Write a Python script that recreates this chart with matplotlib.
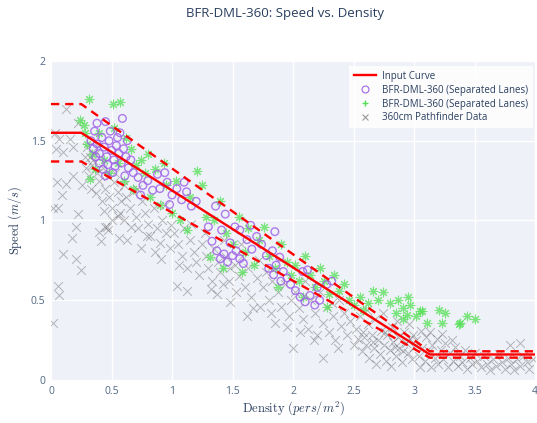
import matplotlib.pyplot as plt
from matplotlib.lines import Line2D

plt.rcParams['font.family'] = ['Open Sans', 'DejaVu Sans']
plt.rcParams['mathtext.fontset'] = 'cm'

# input curve and its +/- band (vertices)
curve_x = [0, 0.25, 3.13, 4]
curve_y = [1.55, 1.55, 0.16, 0.16]
upper_y = [1.73, 1.73, 0.18, 0.18]
lower_y = [1.37, 1.37, 0.14, 0.14]

# 360cm Pathfinder data (gray x)
pf = [(0.02, 0.36), (0.06, 0.59), (0.07, 0.53), (0.10, 0.79), (0.21, 0.76), (0.25, 0.69), (0.17, 0.89),
      (0.21, 0.96), (0.22, 1.04), (0.06, 1.08), (0.02, 1.08), (0.05, 1.24), (0.12, 1.23), (0.26, 1.22),
      (0.12, 1.70), (0.03, 1.55), (0.07, 1.51), (0.16, 1.51), (0.22, 1.61), (0.04, 1.45), (0.10, 1.43),
      (0.28, 1.40), (0.18, 1.28), (0.09, 1.16), (0.18, 1.46),
      (0.30, 1.46), (0.32, 1.40), (0.34, 1.35), (0.36, 1.42), (0.38, 1.30), (0.40, 1.25), (0.31, 1.28),
      (0.33, 1.20), (0.37, 1.17), (0.42, 1.12), (0.45, 1.20), (0.48, 1.15), (0.50, 1.08), (0.44, 1.06),
      (0.45, 0.96), (0.47, 0.94), (0.41, 0.87), (0.56, 0.89), (0.55, 1.03), (0.40, 0.93), (0.46, 0.96),
      (0.52, 1.24), (0.55, 1.18), (0.58, 1.12), (0.35, 1.38), (0.39, 1.47), (0.29, 1.33), (0.43, 1.33),
      (0.47, 1.28), (0.53, 1.30), (0.60, 1.22), (0.57, 1.05), (0.50, 1.00),
      (0.62, 1.15), (0.65, 1.08), (0.68, 1.18), (0.70, 1.02), (0.72, 0.95), (0.75, 1.12), (0.78, 1.05),
      (0.80, 0.98), (0.82, 0.90), (0.85, 1.08), (0.88, 0.95), (0.90, 0.86), (0.92, 1.00), (0.95, 0.92),
      (0.98, 0.83), (0.74, 0.83), (0.66, 0.96), (0.63, 0.88), (0.86, 0.80), (0.94, 1.10), (0.71, 1.20),
      (0.79, 0.90), (0.99, 0.97), (0.60, 1.00), (0.91, 0.76),
      (1.02, 0.92), (1.05, 0.85), (1.08, 0.78), (1.10, 0.95), (1.12, 0.70), (1.15, 0.88), (1.18, 0.80),
      (1.20, 0.74), (1.22, 0.66), (1.25, 0.85), (1.28, 0.78), (1.30, 0.70), (1.33, 0.62), (1.35, 0.82),
      (1.38, 0.74), (1.40, 0.68), (1.42, 0.60), (1.45, 0.77), (1.48, 0.70), (1.04, 0.59), (1.12, 0.56),
      (1.37, 0.54), (1.48, 0.49), (1.16, 0.98), (1.27, 0.92), (1.43, 0.88), (1.06, 0.72), (1.32, 0.57),
      (1.47, 0.62),
      (1.52, 0.72), (1.55, 0.65), (1.58, 0.78), (1.60, 0.58), (1.63, 0.70), (1.65, 0.52), (1.67, 0.45),
      (1.70, 0.64), (1.73, 0.46), (1.75, 0.58), (1.78, 0.68), (1.80, 0.50), (1.83, 0.62), (1.85, 0.36),
      (1.88, 0.55), (1.90, 0.46), (1.93, 0.60), (1.95, 0.33), (1.98, 0.50), (1.57, 0.85), (1.62, 0.40),
      (1.72, 0.75), (1.82, 0.42), (1.97, 0.40), (1.53, 0.55),
      (2.00, 0.20), (2.02, 0.55), (2.05, 0.45), (2.08, 0.38), (2.10, 0.62), (2.12, 0.32), (2.15, 0.50),
      (2.18, 0.42), (2.20, 0.28), (2.22, 0.55), (2.25, 0.14), (2.25, 0.36), (2.28, 0.46), (2.30, 0.30),
      (2.33, 0.40), (2.35, 0.25), (2.37, 0.20), (2.38, 0.50), (2.40, 0.34), (2.42, 0.42), (2.45, 0.28),
      (2.47, 0.37), (2.50, 0.22), (2.06, 0.30), (2.17, 0.25), (2.32, 0.48),
      (2.52, 0.32), (2.54, 0.26), (2.55, 0.40), (2.57, 0.18), (2.58, 0.30), (2.60, 0.22), (2.62, 0.35),
      (2.63, 0.14), (2.65, 0.28), (2.67, 0.20), (2.68, 0.38), (2.70, 0.25), (2.72, 0.16), (2.73, 0.31),
      (2.75, 0.22), (2.77, 0.12), (2.78, 0.28), (2.80, 0.19), (2.82, 0.33), (2.83, 0.24), (2.85, 0.15),
      (2.87, 0.27), (2.88, 0.20), (2.90, 0.11), (2.92, 0.30), (2.93, 0.23), (2.95, 0.17), (2.97, 0.26),
      (2.98, 0.13), (3.00, 0.21), (2.61, 0.44), (2.74, 0.42), (2.86, 0.37), (2.96, 0.35), (2.69, 0.10),
      (2.81, 0.09), (2.59, 0.27), (2.66, 0.24), (2.76, 0.30), (2.84, 0.21), (2.91, 0.18), (2.99, 0.28),
      (3.02, 0.25), (3.04, 0.15), (3.06, 0.31), (3.07, 0.20), (3.09, 0.12), (3.10, 0.27), (3.12, 0.18),
      (3.14, 0.08), (3.15, 0.22), (3.17, 0.14), (3.19, 0.26), (3.20, 0.10), (3.22, 0.19), (3.24, 0.13),
      (3.26, 0.23), (3.28, 0.08), (3.30, 0.17), (3.32, 0.12), (3.34, 0.21), (3.36, 0.09), (3.38, 0.15),
      (3.40, 0.11), (3.42, 0.19), (3.44, 0.07), (3.46, 0.14), (3.48, 0.10), (3.50, 0.17), (3.05, 0.08),
      (3.13, 0.30), (3.23, 0.29), (3.31, 0.25),
      (3.52, 0.12), (3.55, 0.08), (3.58, 0.15), (3.60, 0.10), (3.63, 0.06), (3.65, 0.13), (3.68, 0.09),
      (3.70, 0.16), (3.73, 0.11), (3.75, 0.07), (3.78, 0.14), (3.79, 0.22), (3.80, 0.10), (3.83, 0.06),
      (3.85, 0.13), (3.88, 0.23), (3.88, 0.09), (3.90, 0.15), (3.93, 0.11), (3.95, 0.07), (3.98, 0.13)]
pf_x = [p[0] for p in pf]
pf_y = [p[1] for p in pf]

# BFR-DML-360 (purple circles)
purple = [(0.36, 1.56), (0.38, 1.61), (0.45, 1.62), (0.59, 1.64), (0.33, 1.50), (0.35, 1.45), (0.38, 1.48),
          (0.40, 1.42), (0.42, 1.52), (0.44, 1.46), (0.46, 1.40), (0.48, 1.50), (0.50, 1.44), (0.52, 1.38),
          (0.54, 1.47), (0.56, 1.42), (0.58, 1.36), (0.60, 1.45), (0.62, 1.40), (0.64, 1.33), (0.40, 1.36),
          (0.43, 1.32), (0.47, 1.35), (0.51, 1.30), (0.55, 1.52), (0.37, 1.40), (0.49, 1.56), (0.57, 1.55),
          (0.63, 1.50), (0.66, 1.38), (0.68, 1.30), (0.53, 1.34), (0.45, 1.28), (0.61, 1.28),
          (0.72, 1.27), (0.76, 1.22), (0.80, 1.25), (0.84, 1.19), (0.88, 1.29), (0.94, 1.30), (0.90, 1.20),
          (0.96, 1.24), (1.00, 1.16), (1.04, 1.20), (1.08, 1.13), (1.12, 1.18), (1.16, 1.09), (0.98, 1.10),
          (0.74, 1.16), (1.20, 1.12), (1.10, 1.24),
          (1.36, 1.09), (1.44, 1.04), (1.41, 0.94), (1.56, 0.94), (1.85, 0.93), (1.37, 0.81), (1.40, 0.76),
          (1.43, 0.79), (1.46, 0.74), (1.50, 0.78), (1.53, 0.81), (1.56, 0.76), (1.59, 0.73), (1.48, 0.86),
          (1.62, 0.88), (1.66, 0.82), (1.70, 0.90), (1.74, 0.85), (1.30, 0.96), (1.33, 0.87), (1.52, 0.96),
          (1.65, 0.97),
          (1.78, 0.78), (1.83, 0.81), (1.86, 0.72), (1.89, 0.77), (1.92, 0.68), (1.95, 0.64), (1.98, 0.60),
          (1.90, 0.62), (1.84, 0.66), (2.08, 0.68), (2.12, 0.69), (2.06, 0.52), (2.10, 0.49), (2.14, 0.53),
          (2.18, 0.47), (2.22, 0.50), (2.28, 0.60), (2.32, 0.62), (2.20, 0.58), (1.80, 0.70), (2.02, 0.56)]
purple_x = [p[0] for p in purple]
purple_y = [p[1] for p in purple]

# BFR-DML-360 (green asterisks)
green = [(0.31, 1.76), (0.51, 1.73), (0.57, 1.74), (0.24, 1.63),
         (0.28, 1.55), (0.30, 1.48), (0.34, 1.42), (0.40, 1.55), (0.44, 1.38), (0.48, 1.30), (0.52, 1.58),
         (0.55, 1.36), (0.60, 1.25), (0.62, 1.52), (0.66, 1.45), (0.68, 1.20), (0.27, 1.60), (0.36, 1.32),
         (0.70, 1.35), (0.32, 1.26),
         (0.74, 1.38), (0.78, 1.30), (0.82, 1.15), (0.86, 1.32), (0.90, 1.10), (0.95, 1.22), (1.00, 1.05),
         (1.03, 1.25), (1.07, 1.00), (1.12, 0.94), (1.15, 1.15), (1.21, 1.31), (1.25, 1.22), (1.28, 1.02),
         (0.80, 1.42), (0.93, 1.36),
         (1.31, 0.77), (1.35, 1.00), (1.40, 1.12), (1.45, 0.92), (1.50, 0.85), (1.55, 1.02), (1.60, 0.80),
         (1.63, 0.95), (1.68, 0.72), (1.72, 0.88), (1.76, 0.96), (1.80, 0.78), (1.85, 0.70), (1.90, 0.85),
         (1.95, 0.74), (1.98, 0.66), (1.42, 0.70), (1.58, 0.68), (1.88, 0.58),
         (2.02, 0.72), (2.05, 0.62), (2.10, 0.78), (2.14, 0.66), (2.18, 0.58), (2.22, 0.70), (2.26, 0.62),
         (2.30, 0.54), (2.34, 0.66), (2.38, 0.56), (2.42, 0.60), (2.46, 0.50), (2.50, 0.47), (2.55, 0.52),
         (2.58, 0.44), (2.62, 0.48), (2.66, 0.56), (2.70, 0.50), (2.08, 0.52), (2.28, 0.46),
         (2.74, 0.55), (2.80, 0.48), (2.85, 0.42), (2.91, 0.45), (2.97, 0.47), (2.91, 0.38), (3.07, 0.43),
         (3.02, 0.40), (3.11, 0.36), (3.21, 0.44), (3.23, 0.36), (3.26, 0.42), (3.37, 0.35), (3.38, 0.36),
         (3.44, 0.40), (3.50, 0.38), (2.95, 0.52), (2.87, 0.50), (2.94, 0.41), (3.05, 0.43)]
green_x = [p[0] for p in green]
green_y = [p[1] for p in green]

xticks = [0, 0.5, 1, 1.5, 2, 2.5, 3, 3.5, 4]
xticklabels = ['0', '0.5', '1', '1.5', '2', '2.5', '3', '3.5', '4']
yticks = [0, 0.5, 1, 1.5, 2]
yticklabels = ['0', '0.5', '1', '1.5', '2']

fig = plt.figure(figsize=(5.37, 4.23), dpi=100)
ax = fig.add_axes([51 / 537, 1 - 380 / 423, 484 / 537, 319 / 423])
ax.set_facecolor('#EEF1F8')

ax.scatter(pf_x, pf_y, marker='x', s=40, color='#555555', alpha=0.4, linewidths=0.7, zorder=2)
ax.scatter(green_x, green_y, marker=(8, 2, 0), s=40, color='#55e055', alpha=0.75, linewidths=0.8, zorder=3)
ax.scatter(purple_x, purple_y, marker='o', s=30, facecolors='none', edgecolors='#a066e6',
           linewidths=1.0, alpha=0.85, zorder=4)

ax.plot(curve_x, curve_y, color='red', linewidth=1.7, zorder=5)
ax.plot(curve_x, upper_y, color='red', linewidth=1.7, linestyle=(0, (3.5, 2.5)), zorder=5)
ax.plot(curve_x, lower_y, color='red', linewidth=1.7, linestyle=(0, (3.5, 2.5)), zorder=5)

ax.set_xlim(0, 4)
ax.set_ylim(0, 2)
ax.set_xticks(xticks)
ax.set_xticklabels(xticklabels)
ax.set_yticks(yticks)
ax.set_yticklabels(yticklabels)
ax.tick_params(length=0, labelsize=7.5, labelcolor='#506784', pad=4)
ax.grid(color='white', linewidth=1)
ax.set_axisbelow(True)
for s in ax.spines.values():
    s.set_visible(False)

ax.set_xlabel(r'$\mathrm{Density}\ (pers/m^2)$', fontsize=9, color='#2a3f5f', labelpad=2)
ax.set_ylabel(r'$\mathrm{Speed}\ (m/s)$', fontsize=9, color='#2a3f5f', labelpad=5)

fig.text(285 / 537, 1 - 14 / 423, 'BFR-DML-360: Speed vs. Density', ha='center', va='center',
         fontsize=9.5, color='#2a3f5f')

handles = [
    Line2D([], [], color='red', linewidth=1.7),
    Line2D([], [], marker='o', linestyle='none', markersize=5, markerfacecolor='none',
           markeredgecolor='#a066e6', markeredgewidth=0.8),
    Line2D([], [], marker='+', linestyle='none', markersize=5, color='#55e055', markeredgewidth=1.0),
    Line2D([], [], marker='x', linestyle='none', markersize=5, color='#999999', markeredgewidth=0.8),
]
labels = ['Input Curve', 'BFR-DML-360 (Separated Lanes)', 'BFR-DML-360 (Separated Lanes)',
          '360cm Pathfinder Data']
leg = ax.legend(handles, labels, loc='upper right', bbox_to_anchor=(1.005, 1.0), fontsize=7,
                frameon=True, fancybox=False, handlelength=2.2, labelspacing=0.3, borderpad=0.5,
                handletextpad=0.6)
leg.get_frame().set_facecolor('white')
leg.get_frame().set_alpha(0.85)
leg.get_frame().set_edgecolor('none')
for t in leg.get_texts():
    t.set_color('#2a3f5f')

fig.savefig('out.png', dpi=100)
